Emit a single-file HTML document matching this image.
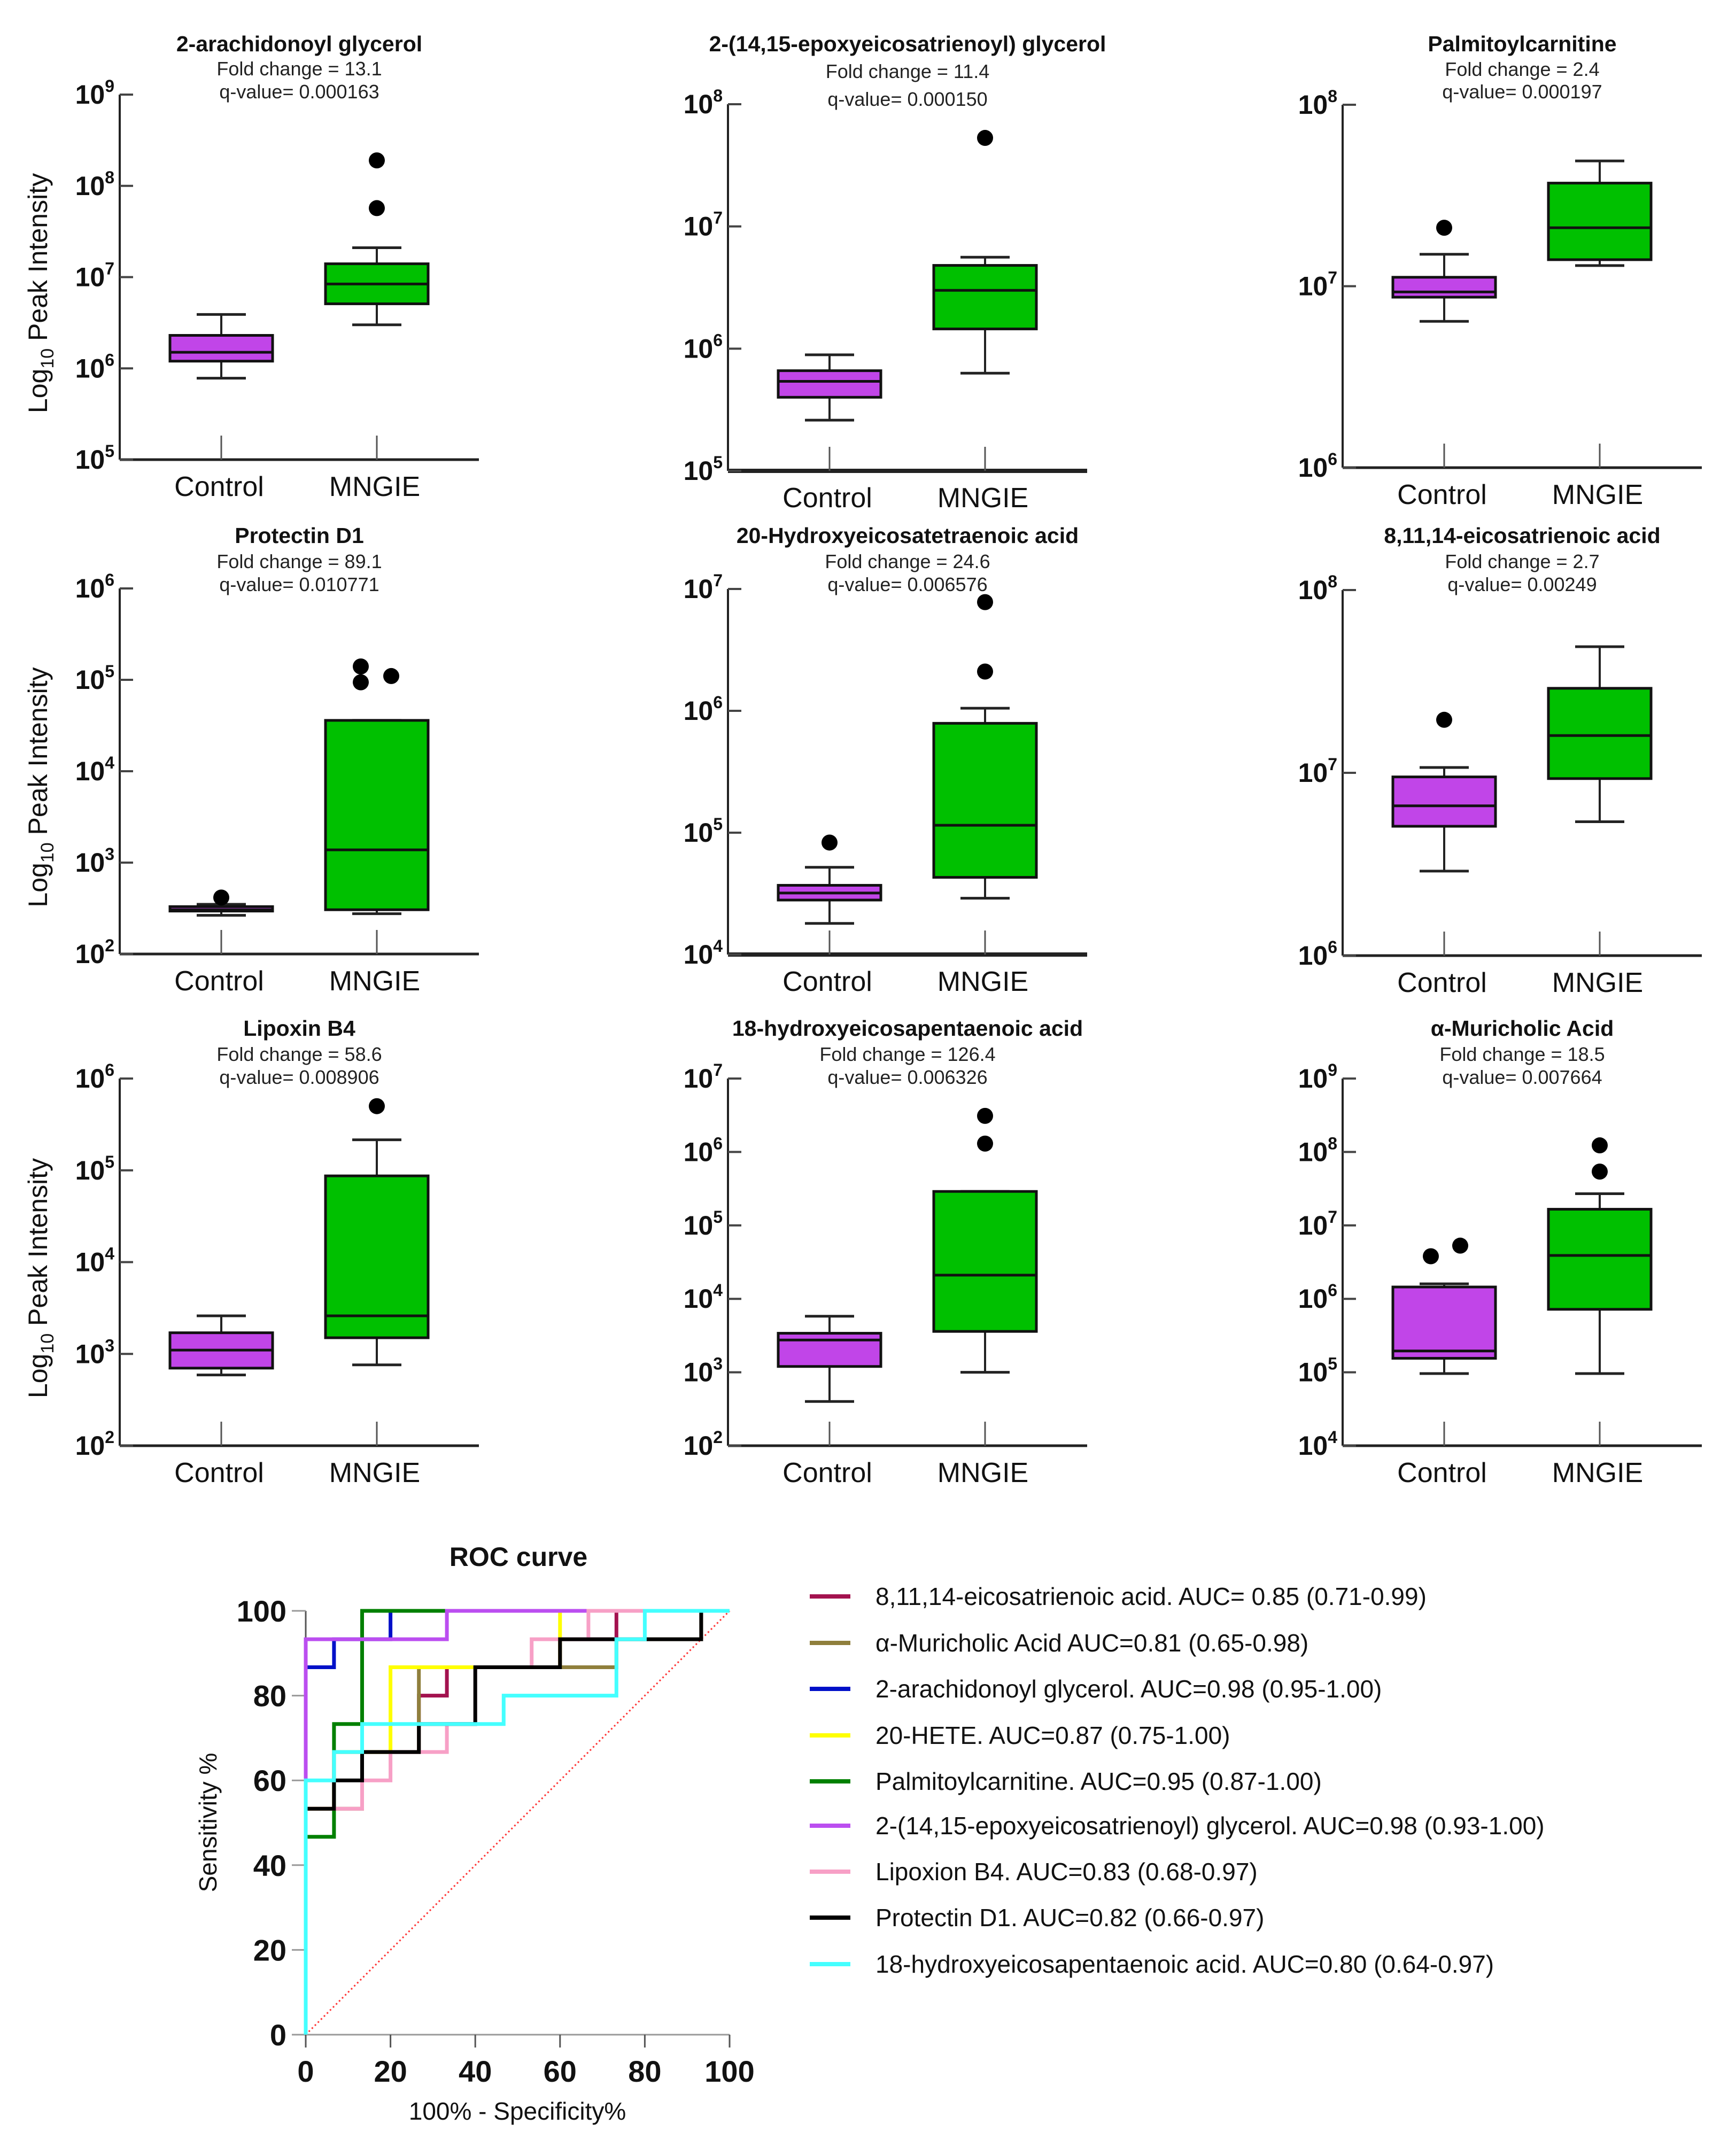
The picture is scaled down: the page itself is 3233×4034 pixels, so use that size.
<!DOCTYPE html>
<html><head><meta charset="utf-8"><style>
html,body{margin:0;padding:0;background:#fff}
svg{display:block;font-family:"Liberation Sans",Arial,sans-serif}
</style></head><body>
<svg id="fig" xmlns="http://www.w3.org/2000/svg" width="3233" height="4034" viewBox="0 0 3233 4034">
<rect width="3233" height="4034" fill="#fff"/>
<g id="boxes"></g>
<g id="roc"></g>
<g id="legend"></g>
</svg>
<script>
// ---------- box plot data ----------
const titles = ["2-arachidonoyl glycerol","2-(14,15-epoxyeicosatrienoyl) glycerol","Palmitoylcarnitine","Protectin D1","20-Hydroxyeicosatetraenoic acid","8,11,14-eicosatrienoic acid","Lipoxin B4","18-hydroxyeicosapentaenoic acid","α-Muricholic Acid"];
const foldChanges = ["13.1","11.4","2.4","89.1","24.6","2.7","58.6","126.4","18.5"];
const qValues = ["0.000163","0.000150","0.000197","0.010771","0.006576","0.00249","0.008906","0.006326","0.007664"];
const categories = ["Control","MNGIE"];
const expLow = [5,5,6,2,4,6,2,2,4];
const expHigh = [9,8,8,6,7,8,6,7,9];
// [whiskerLow, q1, median, q3, whiskerHigh]
const controlStats = [
 [7.8e5,1.2e6,1.5e6,2.3e6,3.9e6],
 [2.6e5,4e5,5.4e5,6.6e5,8.9e5],
 [6.4e6,8.7e6,9.3e6,1.12e7,1.5e7],
 [265,295,305,330,350],
 [1.8e4,2.8e4,3.2e4,3.7e4,5.2e4],
 [2.9e6,5.1e6,6.6e6,9.5e6,1.07e7],
 [590,700,1100,1700,2600],
 [400,1200,2750,3400,5800],
 [9.6e4,1.55e5,1.95e5,1.45e6,1.6e6]];
const mngieStats = [
 [3e6,5.1e6,8.4e6,1.4e7,2.1e7],
 [6.3e5,1.45e6,3e6,4.8e6,5.6e6],
 [1.3e7,1.4e7,2.1e7,3.7e7,4.9e7],
 [276,305,1380,3.6e4,3.6e4],
 [2.9e4,4.3e4,1.15e5,7.9e5,1.05e6],
 [5.4e6,9.3e6,1.6e7,2.9e7,4.9e7],
 [760,1500,2600,8.7e4,2.15e5],
 [1000,3600,2.1e4,2.9e5,2.9e5],
 [9.6e4,7.2e5,3.9e6,1.66e7,2.7e7]];
const controlOutliers = [[],[],[2.1e7],[415],[8.3e4],[1.95e7],[],[],[3.8e6,5.3e6]];
const mngieOutliers = [[1.9e8,5.7e7],[5.3e7],[],[1.4e5,9.4e4,1.1e5],[7.8e6,2.1e6],[],[5e5],[3.1e6,1.3e6],[1.23e8,5.4e7]];
// layout (pixels, not data)
const colX = [224,1362,2512];
const rowTop = [[177,195,196],[1101,1102,1104],[2018,2018,2018]];
const rowBot = [[860,881,875],[1785,1786,1788],[2705,2705,2705]];
const rowTitleY = [[96,96,96],[1016,1016,1016],[1938,1938,1938]];
const foldY = [[141,146,142],[1063,1063,1063],[1985,1985,1985]];
const qY = [[184,198,184],[1106,1106,1106],[2028,2028,2028]];
const ctrlJit = [[],[],[0],[0],[0],[0],[],[],[-25,30]];
const mngJit = [[0,0],[0],[],[-30,-30,27],[0,0],[],[0],[0,0],[0,0]];

const NS="http://www.w3.org/2000/svg";
function mk(tag,attrs,parent){const e=document.createElementNS(NS,tag);for(const k in attrs)e.setAttribute(k,attrs[k]);parent.appendChild(e);return e;}

const boxes=document.getElementById('boxes');
for(let i=0;i<9;i++){
  const r=Math.floor(i/3),c=i%3;
  const ax=colX[c],yT=rowTop[r][c],yB=rowBot[r][c];
  const lo=expLow[i],hi=expHigh[i];
  const yS=v=>yB-(Math.log10(v)-lo)/(hi-lo)*(yB-yT);
  const xEnd=ax+672;
  const cx=[ax+190,ax+481];
  const cxm=ax+336;
  const g=mk('g',{},boxes);
  
  
  let t=mk('text',{x:cxm,y:rowTitleY[r][c],'text-anchor':'middle','font-size':41,'font-weight':'bold',fill:'#111'},g);
  t.textContent=titles[i];
  
  
  t=mk('text',{x:cxm,y:foldY[r][c],'text-anchor':'middle','font-size':36,fill:'#222'},g);
  t.textContent='Fold change = '+foldChanges[i];
  
  
  t=mk('text',{x:cxm,y:qY[r][c],'text-anchor':'middle','font-size':36,fill:'#222'},g);
  t.textContent='q-value= '+qValues[i];
  
  
  // axes
  let a=mk('line',{x1:ax,y1:yT,x2:ax,y2:yB,stroke:'#222','stroke-width':4},g);
  
  
  a=mk('line',{x1:ax,y1:yB,x2:xEnd,y2:yB,stroke:'#222','stroke-width':(i==1||i==4)?8:5},g);
  
  
  for(let e=lo;e<=hi;e++){
    const y=yS(Math.pow(10,e));
    mk('line',{x1:ax,y1:y,x2:ax+25,y2:y,stroke:'#444','stroke-width':4},g);
    const tl=mk('text',{x:ax-10,y:y+17,'text-anchor':'end','font-size':50,'font-weight':'bold',fill:'#111'},g);
    
    
    const s1=mk('tspan',{},tl);s1.textContent='10';
    const s2=mk('tspan',{'font-size':32,dy:-22},tl);s2.textContent=String(e);
  }
  for(let k=0;k<2;k++){
    mk('line',{x1:cx[k],y1:yB,x2:cx[k],y2:yB-45,stroke:'#555','stroke-width':3},g);
    const cl=mk('text',{x:cx[k]-4,y:yB+68,'text-anchor':'middle','font-size':52,fill:'#111'},g);
    cl.textContent=categories[k];
    
    
    const st=k==0?controlStats[i]:mngieStats[i];
    const col=k==0?'#c145e8':'#00c000';
    const bg=mk('g',{},g);
    
    
    mk('line',{x1:cx[k],y1:yS(st[0]),x2:cx[k],y2:yS(st[4]),stroke:'#222','stroke-width':4},bg);
    mk('line',{x1:cx[k]-46,y1:yS(st[0]),x2:cx[k]+46,y2:yS(st[0]),stroke:'#222','stroke-width':5},bg);
    mk('line',{x1:cx[k]-46,y1:yS(st[4]),x2:cx[k]+46,y2:yS(st[4]),stroke:'#222','stroke-width':5},bg);
    const y3=yS(st[3]),y1=yS(st[1]);
    mk('rect',{x:cx[k]-96,y:y3,width:192,height:Math.max(2,y1-y3),fill:col,stroke:'#111','stroke-width':5},bg);
    mk('line',{x1:cx[k]-96,y1:yS(st[2]),x2:cx[k]+96,y2:yS(st[2]),stroke:'#111','stroke-width':5},bg);
    const outs=k==0?controlOutliers[i]:mngieOutliers[i];
    const jit=k==0?ctrlJit[i]:mngJit[i];
    outs.forEach((v,j)=>{
      const d=mk('circle',{cx:cx[k]+(jit[j]||0),cy:yS(v),r:15,fill:'#000'},g);
      
      
    });
  }
  if(c==0){
    const cyT=(yT+yB)/2;
    const yt=mk('text',{x:0,y:0,transform:`translate(88,${cyT+30}) rotate(-90)`,'text-anchor':'middle','font-size':50,fill:'#111'},g);
    
    
    const a1=mk('tspan',{},yt);a1.textContent='Log';
    const a2=mk('tspan',{'font-size':34,dy:12},yt);a2.textContent='10';
    const a3=mk('tspan',{dy:-12},yt);a3.textContent=' Peak Intensity';
  }
}

// ---------- ROC data ----------
const rocNames = ["8,11,14-eicosatrienoic acid. AUC= 0.85 (0.71-0.99)","α-Muricholic Acid AUC=0.81 (0.65-0.98)","2-arachidonoyl glycerol. AUC=0.98 (0.95-1.00)","20-HETE. AUC=0.87 (0.75-1.00)","Palmitoylcarnitine. AUC=0.95 (0.87-1.00)","2-(14,15-epoxyeicosatrienoyl) glycerol. AUC=0.98 (0.93-1.00)","Lipoxion B4. AUC=0.83 (0.68-0.97)","Protectin D1. AUC=0.82 (0.66-0.97)","18-hydroxyeicosapentaenoic acid. AUC=0.80 (0.64-0.97)"];
const rocColors = ["#a3124f","#8f7f3c","#0010c8","#ffff00","#008000","#bb4ef0","#f7a0c6","#000000","#44ffff"];
const rocX = [
 [0,0,6.67,6.67,26.7,26.7,33.3,33.3,60,60,73.3,73.3,100],
 [0,0,13.3,13.3,26.7,26.7,73.3,73.3,93.3,93.3,100],
 [0,0,6.67,6.67,20,20,100],
 [0,0,6.67,6.67,20,20,60,60,100],
 [0,0,6.67,6.67,13.3,13.3,100],
 [0,0,33.3,33.3,100],
 [0,0,13.3,13.3,20,20,33.3,33.3,40,40,53.3,53.3,66.7,66.7,100],
 [0,0,6.67,6.67,13.3,13.3,26.7,26.7,40,40,60,60,93.3,93.3,100],
 [0,0,6.67,6.67,13.3,13.3,46.7,46.7,73.3,73.3,80,80,100]];
const rocY = [
 [0,53.3,53.3,66.7,66.7,80,80,86.7,86.7,93.3,93.3,100,100],
 [0,53.3,53.3,66.7,66.7,86.7,86.7,93.3,93.3,100,100],
 [0,86.7,86.7,93.3,93.3,100,100],
 [0,53.3,53.3,66.7,66.7,86.7,86.7,100,100],
 [0,46.7,46.7,73.3,73.3,100,100],
 [0,93.3,93.3,100,100],
 [0,53.3,53.3,60,60,66.7,66.7,73.3,73.3,86.7,86.7,93.3,93.3,100,100],
 [0,53.3,53.3,60,60,66.7,66.7,73.3,73.3,86.7,86.7,93.3,93.3,100,100],
 [0,60,60,66.7,66.7,73.3,73.3,80,80,93.3,93.3,100,100]];
const rocTicks = [0,20,40,60,80,100];

const roc=document.getElementById('roc');
const X0=572,X1=1365,Y0=3807,Y1=3014;
const rx=v=>X0+v/100*(X1-X0), ry=v=>Y0-v/100*(Y0-Y1);
let e=mk('text',{x:970,y:2930,'text-anchor':'middle','font-size':50,'font-weight':'bold',fill:'#111'},roc);
e.textContent='ROC curve';


e=mk('line',{x1:rx(0),y1:ry(0),x2:rx(0),y2:ry(100),stroke:'#555','stroke-width':3},roc);


e=mk('line',{x1:rx(0),y1:ry(0),x2:rx(100),y2:ry(0),stroke:'#999','stroke-width':3},roc);


rocTicks.forEach(v=>{
  mk('line',{x1:rx(0)-26,y1:ry(v),x2:rx(0),y2:ry(v),stroke:'#999','stroke-width':3},roc);
  mk('line',{x1:rx(v),y1:ry(0),x2:rx(v),y2:ry(0)+24,stroke:'#555','stroke-width':3},roc);
  let t=mk('text',{x:rx(0)-36,y:ry(v)+20,'text-anchor':'end','font-size':56,'font-weight':'bold',fill:'#111'},roc);
  t.textContent=String(v);
  
  
  t=mk('text',{x:rx(v),y:ry(0)+88,'text-anchor':'middle','font-size':56,'font-weight':'bold',fill:'#111'},roc);
  t.textContent=String(v);
  
  
});
e=mk('text',{x:0,y:0,transform:'translate(405,3410) rotate(-90)','text-anchor':'middle','font-size':46,fill:'#111'},roc);
e.textContent='Sensitivity %';


e=mk('text',{x:968,y:3966,'text-anchor':'middle','font-size':46,fill:'#111'},roc);
e.textContent='100% - Specificity%';


e=mk('line',{x1:rx(0),y1:ry(0),x2:rx(100),y2:ry(100),stroke:'#f33','stroke-width':3,'stroke-dasharray':'3,5'},roc);


for(let i=0;i<rocX.length;i++){
  const pts=rocX[i].map((v,j)=>rx(v).toFixed(1)+','+ry(rocY[i][j]).toFixed(1)).join(' ');
  const p=mk('polyline',{points:pts,fill:'none',stroke:rocColors[i],'stroke-width':7,'stroke-linejoin':'miter'},roc);
  
  
}
const leg=document.getElementById('legend');
const legY=[2987,3074,3160,3247,3333,3416,3502,3588,3675];
for(let i=0;i<rocNames.length;i++){
  const g=mk('g',{},leg);
  
  
  mk('line',{x1:1515,y1:legY[i],x2:1591,y2:legY[i],stroke:rocColors[i],'stroke-width':8},g);
  const t=mk('text',{x:1638,y:legY[i]+16,'font-size':46,fill:'#111'},g);
  t.textContent=rocNames[i];
}
</script>
</body></html>
